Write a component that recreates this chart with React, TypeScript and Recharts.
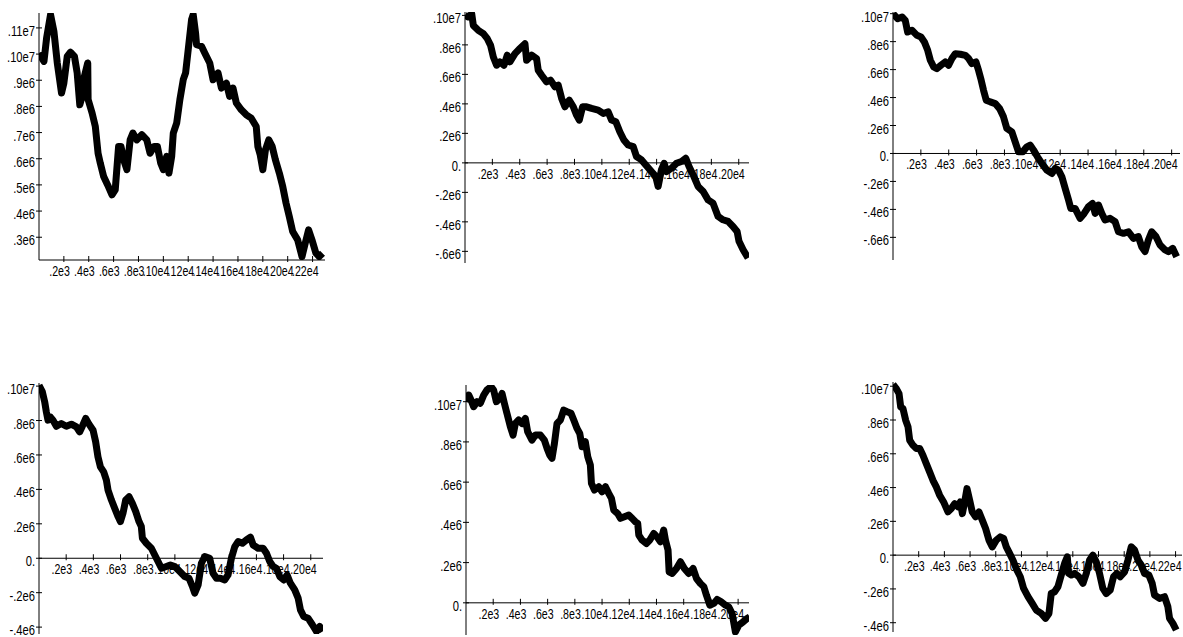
import { LineChart, Line, XAxis, YAxis, ReferenceLine, ReferenceDot } from "recharts"

// six random walks, x = step, y = value in thousands
const walk1: [number, number][] = [
  [0, 1004], [40, 972], [61, 1061], [93, 1151], [120, 1087], [147, 966], [181, 851], [200, 889],
  [227, 991], [253, 1007], [285, 991], [307, 928], [328, 806], [347, 838], [365, 915], [392, 966],
  [395, 826], [427, 775], [453, 723], [475, 621], [493, 583], [520, 532], [552, 500], [587, 462],
  [613, 481], [640, 647], [659, 647], [685, 590], [707, 558], [733, 672], [755, 698], [787, 672],
  [827, 692], [867, 672], [893, 621], [925, 647], [952, 647], [979, 583], [1000, 558], [1027, 609],
  [1045, 545], [1067, 609], [1080, 698], [1107, 736], [1133, 826], [1160, 902], [1179, 928], [1200, 1017],
  [1227, 1132], [1240, 1151], [1259, 1081], [1267, 1036], [1307, 1030], [1333, 1004], [1373, 966], [1400, 902],
  [1440, 928], [1467, 870], [1507, 889], [1533, 838], [1560, 870], [1587, 813], [1627, 787], [1667, 768],
  [1707, 755], [1747, 723], [1760, 647], [1779, 615], [1800, 558], [1821, 634], [1848, 672], [1875, 647],
  [1901, 596], [1933, 545], [1960, 494], [1987, 430], [2013, 379], [2040, 322], [2080, 290], [2115, 226],
  [2141, 277], [2168, 328], [2195, 290], [2227, 239], [2253, 226], [2280, 239],
]

const walk2: [number, number][] = [
  [0, 1000], [24, 989], [49, 1011], [61, 932], [97, 899], [134, 876], [163, 842], [187, 797],
  [207, 718], [231, 662], [255, 685], [285, 662], [309, 730], [328, 685], [365, 741], [401, 775],
  [438, 808], [450, 696], [487, 730], [523, 707], [535, 628], [560, 594], [596, 549], [625, 561],
  [657, 516], [681, 527], [706, 437], [730, 380], [762, 425], [791, 380], [815, 324], [835, 290],
  [859, 380], [888, 380], [925, 369], [973, 358], [1010, 335], [1046, 346], [1071, 290], [1102, 279],
  [1131, 211], [1161, 155], [1192, 121], [1229, 110], [1253, 43], [1290, 20], [1321, -14], [1362, -59],
  [1394, -93], [1411, -160], [1435, -48], [1455, -3], [1472, -59], [1509, -36], [1545, -3], [1582, 9],
  [1613, 31], [1637, -25], [1667, -82], [1703, -160], [1740, -194], [1776, -251], [1812, -273], [1849, -363],
  [1885, -386], [1922, -397], [1958, -431], [1988, -465], [2002, -532], [2032, -589], [2068, -645],
]

const walk3: [number, number][] = [
  [0, 1000], [33, 964], [65, 976], [88, 952], [105, 869], [136, 881], [172, 845], [201, 833],
  [225, 798], [249, 738], [268, 667], [292, 619], [315, 607], [344, 631], [375, 655], [399, 631],
  [423, 679], [447, 714], [483, 710], [519, 702], [543, 679], [566, 643], [595, 655], [614, 595],
  [633, 524], [650, 452], [669, 381], [698, 369], [734, 357], [765, 321], [793, 262], [817, 179],
  [853, 155], [877, 83], [901, 12], [932, 12], [961, 48], [985, 60], [1009, 24], [1037, -24],
  [1068, -71], [1104, -119], [1140, -143], [1164, -107], [1188, -119], [1212, -167], [1236, -250], [1260, -333],
  [1276, -393], [1307, -393], [1343, -464], [1372, -429], [1403, -381], [1432, -357], [1451, -429], [1475, -369],
  [1499, -429], [1522, -476], [1558, -464], [1594, -488], [1618, -560], [1654, -571], [1690, -560], [1726, -607],
  [1761, -595], [1785, -667], [1809, -702], [1833, -619], [1857, -560], [1888, -595], [1917, -655], [1953, -690],
  [1977, -702], [2008, -679], [2036, -738],
]

const walk4: [number, number][] = [
  [0, 1005], [25, 966], [42, 908], [54, 850], [66, 802], [83, 821], [103, 802], [128, 767],
  [164, 783], [201, 767], [238, 779], [275, 763], [299, 734], [319, 767], [344, 812], [368, 779],
  [398, 744], [417, 676], [434, 589], [452, 531], [476, 502], [496, 454], [508, 396], [533, 338],
  [557, 290], [582, 242], [599, 213], [618, 261], [638, 338], [663, 357], [687, 319], [712, 271],
  [736, 213], [753, 184], [761, 116], [790, 87], [827, 58], [852, 19], [876, -19], [901, -58],
  [937, -48], [967, -39], [999, -48], [1036, -77], [1072, -106], [1104, -116], [1129, -164], [1146, -203],
  [1171, -155], [1195, -29], [1220, 10], [1256, 0], [1281, -87], [1306, -116], [1335, -116], [1367, -126],
  [1391, -97], [1416, 0], [1441, 68], [1465, 97], [1497, 87], [1526, 106], [1556, 122], [1576, 77],
  [1612, 58], [1649, 58], [1674, 29], [1698, -19], [1723, -48], [1747, -58], [1772, -106], [1801, -126],
  [1826, -97], [1850, -145], [1882, -184], [1907, -232], [1924, -300], [1948, -338], [1980, -348], [2012, -386],
  [2042, -425], [2066, -396], [2088, -425],
]

const walk5: [number, number][] = [
  [0, 1000], [20, 1033], [37, 1008], [56, 975], [81, 1000], [105, 992], [130, 1033], [154, 1058],
  [184, 1075], [203, 1058], [223, 1000], [248, 1017], [265, 1041], [282, 992], [301, 942], [326, 876],
  [346, 834], [363, 892], [387, 909], [412, 892], [436, 917], [453, 851], [485, 809], [510, 834],
  [547, 834], [576, 809], [596, 768], [615, 735], [632, 718], [650, 793], [669, 892], [694, 909],
  [718, 958], [743, 950], [772, 942], [792, 909], [816, 867], [836, 842], [853, 776], [877, 801],
  [895, 726], [914, 685], [922, 594], [944, 561], [976, 577], [1000, 552], [1025, 577], [1049, 544],
  [1069, 519], [1086, 461], [1115, 444], [1135, 420], [1164, 428], [1196, 436], [1221, 420], [1245, 403],
  [1262, 395], [1270, 337], [1294, 312], [1326, 295], [1351, 312], [1380, 345], [1404, 328], [1429, 303],
  [1453, 362], [1466, 312], [1485, 262], [1493, 154], [1515, 146], [1547, 171], [1576, 204], [1605, 171],
  [1637, 146], [1669, 171], [1694, 121], [1723, 96], [1748, 80], [1767, 38], [1792, -12], [1821, -3],
  [1846, 17], [1875, 5], [1907, -12], [1931, -20], [1956, -53], [1980, -144], [2005, -111], [2037, -95],
  [2066, -78], [2085, -70],
]

const walk6: [number, number][] = [
  [0, 1010], [26, 985], [47, 956], [60, 877], [78, 867], [99, 798], [117, 759], [130, 680],
  [156, 650], [182, 631], [208, 631], [233, 591], [259, 542], [285, 493], [311, 443], [337, 404],
  [363, 355], [394, 315], [428, 256], [454, 276], [480, 305], [506, 286], [524, 315], [540, 246],
  [558, 315], [576, 394], [597, 325], [617, 256], [643, 227], [669, 256], [695, 207], [721, 158],
  [747, 89], [773, 49], [804, 89], [835, 108], [861, 99], [882, 49], [908, 10], [934, -30],
  [965, -89], [991, -128], [1017, -197], [1051, -246], [1084, -286], [1115, -325], [1154, -345], [1188, -374],
  [1214, -345], [1232, -227], [1258, -217], [1284, -187], [1310, -118], [1336, -49], [1357, -10], [1367, -108],
  [1388, -118], [1414, -108], [1447, -128], [1479, -167], [1505, -108], [1530, -30], [1556, 0], [1582, -39],
  [1608, -108], [1634, -197], [1660, -227], [1691, -207], [1717, -128], [1743, -108], [1769, -128], [1803, -99],
  [1829, -30], [1855, 49], [1881, 30], [1907, -30], [1933, -59], [1958, -108], [1992, -118], [2018, -167],
  [2036, -236], [2075, -256], [2114, -246], [2140, -305], [2153, -374], [2179, -404], [2205, -443],
]

// tick values and their Maple-style labels
const xTickValues = [200, 400, 600, 800, 1000, 1200, 1400, 1600, 1800, 2000, 2200]
const xTickLabels = [".2e3", ".4e3", ".6e3", ".8e3", ".10e4", ".12e4", ".14e4", ".16e4", ".18e4", ".20e4", ".22e4"]
const yTickValues = [-600, -400, -200, 0, 200, 300, 400, 500, 600, 700, 800, 900, 1000, 1100]
const yTickLabels = ["-.6e6", "-.4e6", "-.2e6", "0.", ".2e6", ".3e6", ".4e6", ".5e6", ".6e6", ".7e6", ".8e6", ".9e6", ".10e7", ".11e7"]

const ticks1Y = [300, 400, 500, 600, 700, 800, 900, 1000, 1100]
const ticksEvenY = [-600, -400, -200, 0, 200, 400, 600, 800, 1000]

const FONT = "'Liberation Sans', Arial, sans-serif"

const xLabel = (v: number) => xTickLabels[xTickValues.indexOf(v)]
const yLabel = (v: number) => yTickLabels[yTickValues.indexOf(v)]

// narrow text like the old plot driver
function Squeezed({ x, y, sx, children }: any) {
  return (
    <text
      transform={`translate(${x},${y}) scale(${sx},1)`}
      textAnchor="end"
      fontSize={14}
      fontFamily={FONT}
      fill="#000"
    >
      {children}
    </text>
  )
}

function YTick(props: any) {
  const { x, y, payload } = props
  return (
    <g>
      <line x1={x - 3} x2={x + 3} y1={y} y2={y} stroke="#000" />
      <Squeezed x={x - 4} y={y + 8} sx={0.8}>{yLabel(payload.value)}</Squeezed>
    </g>
  )
}

interface PlotProps {
  walk: [number, number][]
  box: [number, number, number, number] // plot area on the page: left, top, right, bottom
  xMax: number
  yMin: number
  yMax: number
  yTicks: number[]
  xTicks: number[]
  axisAt: number
}

function WalkPlot({ walk, box, xMax, yMin, yMax, yTicks, xTicks, axisAt }: PlotProps) {
  const data = walk.map(([x, y]) => ({ x, y }))
  const padL = 50
  const padT = 10
  const padR = 10
  const padB = 30
  return (
    <div style={{ position: "absolute", left: box[0] - padL, top: box[1] - padT }}>
      <LineChart
        width={box[2] - box[0] + padL + padR}
        height={box[3] - box[1] + padT + padB}
        data={data}
        margin={{ top: padT, right: padR, bottom: padB, left: 0 }}
      >
        <XAxis type="number" dataKey="x" domain={[0, xMax]} hide allowDataOverflow />
        <YAxis
          type="number"
          domain={[yMin, yMax]}
          ticks={yTicks}
          interval={0}
          width={padL}
          tickSize={0}
          tickMargin={0}
          tickLine={false}
          axisLine={{ stroke: "#000" }}
          tick={<YTick />}
          allowDataOverflow
        />
        <ReferenceLine y={axisAt} stroke="#000" />
        {xTicks.map((t) => (
          <ReferenceDot
            key={t}
            x={t}
            y={axisAt}
            r={1}
            shape={(p: any) => (
              <g>
                <line x1={p.cx} x2={p.cx} y1={p.cy - 4} y2={p.cy + 2} stroke="#000" />
                <Squeezed x={p.cx + 6} y={p.cy + 16} sx={0.76}>{xLabel(t)}</Squeezed>
              </g>
            )}
          />
        ))}
        <Line
          type="linear"
          dataKey="y"
          stroke="#000"
          strokeWidth={7}
          strokeLinejoin="round"
          dot={false}
          isAnimationActive={false}
        />
      </LineChart>
    </div>
  )
}

export default function App() {
  return (
    <div
      style={{
        position: "absolute",
        left: 0,
        top: 0,
        width: 1183,
        height: 637,
        overflow: "hidden",
        background: "#fff",
      }}
    >
      <WalkPlot walk={walk1} box={[39, 13, 325, 260]} xMax={2300} yMin={213} yMax={1157}
        yTicks={ticks1Y} xTicks={xTickValues} axisAt={213} />
      <WalkPlot walk={walk2} box={[465, 12, 749, 263]} xMax={2075} yMin={-679} yMax={1023}
        yTicks={ticksEvenY} xTicks={xTickValues.slice(0, 10)} axisAt={0} />
      <WalkPlot walk={walk3} box={[893, 12, 1180, 260]} xMax={2060} yMin={-762} yMax={1012}
        yTicks={ticksEvenY} xTicks={xTickValues.slice(0, 10)} axisAt={0} />
      <WalkPlot walk={walk4} box={[39, 383, 323, 634]} xMax={2090} yMin={-440} yMax={1018}
        yTicks={ticksEvenY.slice(1)} xTicks={xTickValues.slice(0, 10)} axisAt={0} />
      <WalkPlot walk={walk5} box={[466, 385, 749, 635]} xMax={2080} yMin={-160} yMax={1083}
        yTicks={ticksEvenY.slice(3)} xTicks={xTickValues.slice(0, 10)} axisAt={0} />
      <WalkPlot walk={walk6} box={[893, 382, 1182, 632]} xMax={2250} yMin={-455} yMax={1025}
        yTicks={ticksEvenY.slice(1)} xTicks={xTickValues} axisAt={0} />
    </div>
  )
}
